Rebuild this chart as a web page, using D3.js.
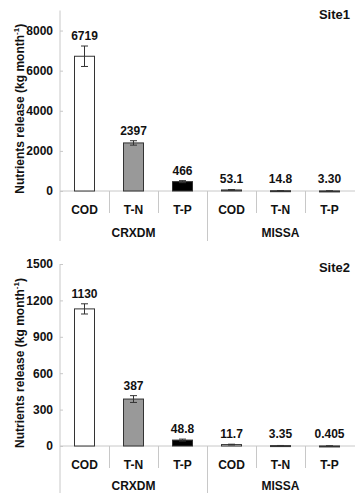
<!DOCTYPE html>
<html>
<head>
<meta charset="utf-8">
<script src="https://cdn.jsdelivr.net/npm/d3@7"></script>
<style>
  body { margin: 0; background: #fff; }
  svg text { font-family: "Liberation Sans", Arial, sans-serif; font-weight: 700; fill: #111; }
</style>
</head>
<body>
<div id="chart"></div>
<script>
const categories = ['COD', 'T-N', 'T-P', 'COD', 'T-N', 'T-P'];
const groups = ['CRXDM', 'MISSA'];

const site1Values = [6719, 2397, 466, 53.1, 14.8, 3.30];
const site1Errors = [510, 110, 50, 20, 5, 1];
const site1Labels = ['6719', '2397', '466', '53.1', '14.8', '3.30'];
const site1Ticks = [0, 2000, 4000, 6000, 8000];

const site2Values = [1130, 387, 48.8, 11.7, 3.35, 0.405];
const site2Errors = [42, 28, 8, 3, 1, 0.2];
const site2Labels = ['1130', '387', '48.8', '11.7', '3.35', '0.405'];
const site2Ticks = [0, 300, 600, 900, 1200, 1500];

const chartWidth = 357;
const chartHeight = 493;
const left = 60;
const right = 354;

const fills = {'COD': '#fff', 'T-N': '#999', 'T-P': '#000'};
const axisColor = '#c8c8c8';

const svg = d3.select('#chart')
    .append('svg')
    .attr('width', chartWidth)
    .attr('height', chartHeight);

const xScale = d3.scaleBand()
    .domain(d3.range(categories.length))
    .range([left, right]);

function label(g, size) {
    return g.append('text')
        .attr('font-family', '"Liberation Sans", Arial, sans-serif')
        .attr('font-weight', 'bold')
        .style('font-weight', 'bold')
        .style('font-size', size + 'px');
}

function drawPanel(opt) {
    const g = svg.append('g');
    const yScale = d3.scaleLinear()
        .domain([0, opt.max])
        .range([opt.base, opt.top]);

    // axis line running down past the category labels
    g.append('line')
        .attr('x1', left).attr('x2', left)
        .attr('y1', opt.top).attr('y2', opt.bottom)
        .attr('stroke', axisColor);

    g.append('line')
        .attr('x1', left).attr('x2', right + 1)
        .attr('y1', opt.base).attr('y2', opt.base)
        .attr('stroke', axisColor);

    const yAxis = g.append('g')
        .attr('transform', `translate(${left},0)`)
        .call(d3.axisLeft(yScale).tickValues(opt.ticks).tickSize(-3).tickPadding(7).tickFormat(d3.format('d')));
    yAxis.select('.domain').remove();
    yAxis.selectAll('line').attr('stroke', axisColor);
    yAxis.selectAll('text')
        .style('font-size', '12px')
        .style('font-family', '"Liberation Sans", Arial, sans-serif')
        .style('font-weight', 'bold')
        .attr('fill', '#111');

    // separators between categories and groups
    d3.range(1, categories.length).forEach(i => {
        const x = Math.round(xScale(i)) + 0.5;
        g.append('line')
            .attr('x1', x).attr('x2', x)
            .attr('y1', opt.base)
            .attr('y2', i === 3 ? opt.bottom : opt.base + 22)
            .attr('stroke', axisColor);
    });

    const bw = 20;
    g.selectAll('.bar')
        .data(opt.values)
        .enter()
        .append('rect')
        .attr('x', (d, i) => xScale(i) + xScale.bandwidth() / 2 - bw / 2)
        .attr('y', d => yScale(d))
        .attr('width', bw)
        .attr('height', d => Math.max(1, yScale(0) - yScale(d)))
        .attr('fill', (d, i) => fills[categories[i]])
        .attr('stroke', '#333')
        .attr('stroke-width', 1);

    // error bars + value labels
    opt.values.forEach((v, i) => {
        const cx = xScale(i) + xScale.bandwidth() / 2;
        const e = opt.errors[i];
        const y1 = yScale(v + e);
        const y2 = yScale(Math.max(0, v - e));
        g.append('line')
            .attr('x1', cx).attr('x2', cx)
            .attr('y1', y1).attr('y2', y2)
            .attr('stroke', '#333');
        [y1, y2].forEach(y => {
            g.append('line')
                .attr('x1', cx - 3.5).attr('x2', cx + 3.5)
                .attr('y1', y).attr('y2', y)
                .attr('stroke', '#333');
        });
        label(g, 12)
            .attr('x', cx)
            .attr('y', Math.min(y1, opt.base - 2) - 6)
            .attr('text-anchor', 'middle')
            .text(opt.labels[i]);
    });

    categories.forEach((c, i) => {
        label(g, 12)
            .attr('x', xScale(i) + xScale.bandwidth() / 2)
            .attr('y', opt.base + 23)
            .attr('text-anchor', 'middle')
            .text(c);
    });

    groups.forEach((name, j) => {
        const x0 = xScale(j * 3);
        const x1 = xScale(j * 3 + 2) + xScale.bandwidth();
        label(g, 12)
            .attr('x', (x0 + x1) / 2)
            .attr('y', Math.min(opt.base + 46, chartHeight - 3))
            .attr('text-anchor', 'middle')
            .text(name);
    });

    label(g, 13)
        .attr('x', 350)
        .attr('y', opt.top + 8)
        .attr('text-anchor', 'end')
        .text(opt.site);

    const title = label(g, 12)
        .attr('transform', `translate(24,${(opt.base + opt.top) / 2 + 8}) rotate(-90)`)
        .attr('text-anchor', 'middle');
    title.append('tspan').text('Nutrients release (kg month');
    title.append('tspan').attr('dy', -5).style('font-size', '8px').text('-1');
    title.append('tspan').attr('dy', 5).text(')');
}

drawPanel({
    values: site1Values, errors: site1Errors, labels: site1Labels,
    ticks: site1Ticks, max: 9000, base: 191, top: 10.5, bottom: 241, site: 'Site1'
});

drawPanel({
    values: site2Values, errors: site2Errors, labels: site2Labels,
    ticks: site2Ticks, max: 1500, base: 446, top: 264, bottom: 493, site: 'Site2'
});
</script>
</body>
</html>
